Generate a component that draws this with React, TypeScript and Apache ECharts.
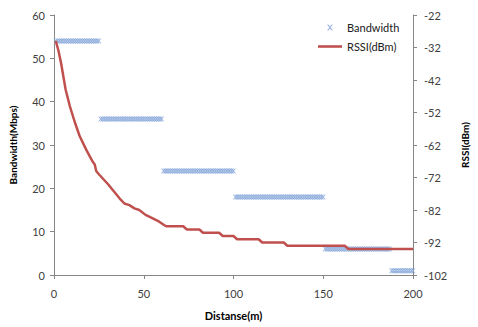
import React, { useEffect, useRef } from "react";
import * as echarts from "echarts";

// Bandwidth runs: [fromDistance, toDistance, Mbps], one sample per metre
const bandwidthRuns: [number, number, number][] = [
  [1, 25, 54],
  [26, 60, 36],
  [61, 100, 24],
  [101, 150, 18],
  [151, 187, 6],
  [188, 200, 1],
];

// RSSI readings: [distance (m), dBm]
const rssiPoints: [number, number][] = [
  [1, -30], [2.5, -33], [4, -37], [6.5, -45], [8.8, -50], [11.6, -55],
  [14.4, -59.4], [18, -63.5], [21.4, -67], [22.7, -68], [23.5, -70], [25, -71],
  [30, -74], [36.5, -78.4], [39.2, -80], [42, -80.5], [44.8, -81.5], [47.5, -82],
  [51, -83.5], [55, -84.6], [58.6, -85.6], [61.3, -86.6], [62.5, -87], [72, -87],
  [74, -88], [81, -88], [83, -89], [92, -89], [94, -90], [100, -90], [102, -91],
  [114, -91], [116, -92], [128, -92], [130, -93], [162, -93], [164, -94], [200, -94],
];

const xTicks = { min: 0, max: 200, interval: 50 };
const leftTicks = { min: 0, max: 60, interval: 10 };
const rightTicks = { min: -102, max: -22, interval: 10 };

const bandwidthPoints: [number, number][] = [];
bandwidthRuns.forEach(([a, b, v]) => {
  for (let d = a; d <= b; d++) bandwidthPoints.push([d, v]);
});

const X_ICON =
  "path://M0,0L2,0L5,3L8,0L10,0L6,5L10,10L8,10L5,7L2,10L0,10L4,5Z";
const LINE_ICON = "path://M0,0H28V3H0Z";
const FONT = "Lato";
const TEXT = "#404040";
const AXIS = "#868686";

export default function App() {
  const ref = useRef<HTMLDivElement>(null);
  useEffect(() => {
    if (!ref.current) return;
    document.body.style.margin = "0";
    const chart = echarts.init(ref.current, undefined, { renderer: "svg" });
    chart.setOption({
      animation: false,
      textStyle: { fontFamily: FONT },
      grid: { left: 54, right: 62, top: 15, bottom: 52, containLabel: false },
      legend: {
        orient: "vertical",
        left: 313,
        top: 17,
        itemWidth: 24,
        itemHeight: 6,
        itemGap: 8,
        symbolKeepAspect: true,
        textStyle: { fontFamily: FONT, fontSize: 11, color: "#202020" },
        data: [
          { name: "Bandwidth", icon: X_ICON },
          { name: "RSSI(dBm)", icon: LINE_ICON },
        ],
      },
      xAxis: {
        type: "value",
        min: xTicks.min,
        max: xTicks.max,
        interval: xTicks.interval,
        name: "Distanse(m)",
        nameLocation: "middle",
        nameGap: 35,
        nameTextStyle: { fontFamily: FONT, fontSize: 11, fontWeight: "bold", color: "#000" },
        axisLine: { show: true, lineStyle: { color: AXIS, width: 1 } },
        axisTick: { show: true, length: 4, lineStyle: { color: AXIS } },
        axisLabel: { margin: 13, fontSize: 11, color: TEXT, fontFamily: FONT },
        splitLine: { show: false },
      },
      yAxis: [
        {
          type: "value",
          position: "left",
          min: leftTicks.min,
          max: leftTicks.max,
          interval: leftTicks.interval,
          name: "Bandwidth(Mbps)",
          nameLocation: "middle",
          nameRotate: 90,
          nameGap: 36,
          nameTextStyle: { fontFamily: FONT, fontSize: 10, fontWeight: "bold", color: "#000" },
          axisLine: { show: true, lineStyle: { color: AXIS, width: 1 } },
          axisTick: { show: true, length: 4, lineStyle: { color: AXIS } },
          axisLabel: { margin: 9, fontSize: 11, color: TEXT, fontFamily: FONT },
          splitLine: { show: false },
        },
        {
          type: "value",
          position: "right",
          min: rightTicks.min,
          max: rightTicks.max,
          interval: rightTicks.interval,
          name: "RSSI(dBm)",
          nameLocation: "middle",
          nameRotate: 90,
          nameGap: 47,
          nameTextStyle: { fontFamily: FONT, fontSize: 10, fontWeight: "bold", color: "#000" },
          axisLine: { show: true, lineStyle: { color: AXIS, width: 1 } },
          axisTick: { show: true, length: 4, lineStyle: { color: AXIS } },
          axisLabel: { margin: 11, fontSize: 11, color: TEXT, fontFamily: FONT },
          splitLine: { show: false },
        },
      ],
      series: [
        {
          name: "Bandwidth",
          type: "scatter",
          yAxisIndex: 0,
          data: bandwidthPoints,
          symbol: X_ICON,
          symbolSize: 5,
          itemStyle: { color: "#7fa3d8" },
          z: 2,
        },
        {
          name: "RSSI(dBm)",
          type: "line",
          yAxisIndex: 1,
          data: rssiPoints,
          showSymbol: false,
          symbol: "none",
          lineStyle: { color: "#c0504d", width: 2.5 },
          itemStyle: { color: "#c0504d" },
          z: 3,
        },
      ],
    });
    return () => chart.dispose();
  }, []);
  return <div ref={ref} style={{ width: 478, height: 327 }} />;
}
